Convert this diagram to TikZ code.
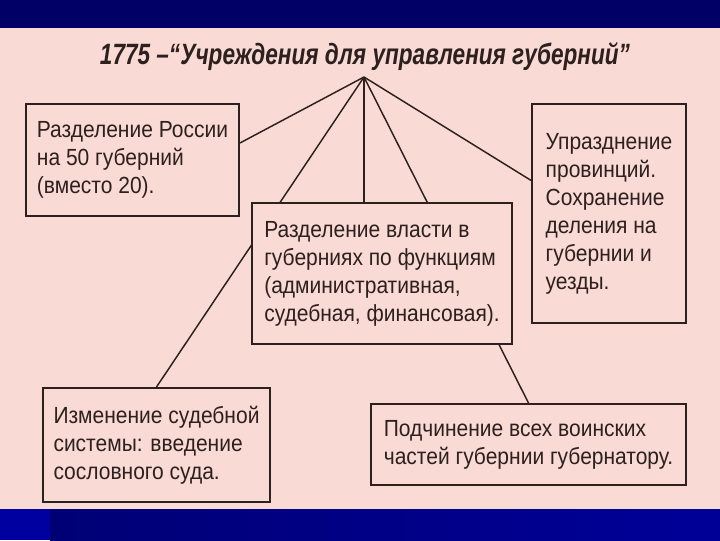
\documentclass[tikz,border=0pt]{standalone}
\usepackage{fontspec}
\newfontfamily\boxfont[FakeStretch=0.9]{Liberation Sans}
\newfontfamily\headfont[FakeStretch=0.77]{Liberation Sans}
\definecolor{pinkbg}{RGB}{249,218,213}
\definecolor{barnavy}{RGB}{0,0,102}
\definecolor{barblue}{RGB}{0,0,160}
\definecolor{inkc}{RGB}{45,32,30}

\pgfdeclarelayer{bg}
\pgfdeclarelayer{wires}
\pgfsetlayers{bg,wires,main}

\begin{document}
\begin{tikzpicture}[x=0.75pt, y=-0.75pt,
    blk/.style={draw=inkc, line width=1.5pt, fill=pinkbg, anchor=north west,
        inner sep=2pt, align=left, text=inkc,
        font=\boxfont\fontsize{17.5}{21}\selectfont},
    wire/.style={draw=inkc, line width=1.1pt}]
    % Parameters
    \def\px{0.75pt}

    % Frame
    \useasboundingbox (0,0) rectangle (720,540);
    \begin{pgfonlayer}{bg}
        \fill[pinkbg] (0,0) rectangle (720,540);
        \fill[barnavy] (0,0) rectangle (720,28);
        \shade[left color=barnavy!90!blue, right color=barblue!95!black] (50,509) rectangle (720,540);
        \fill[barblue] (0,509) rectangle (50,540);
    \end{pgfonlayer}

    % Title and apex
    \node[anchor=base, text=inkc, font=\headfont\bfseries\itshape\fontsize{22}{24}\selectfont]
        (title) at (365,64) {1775 –“Учреждения для управления губерний”};
    \coordinate (apex) at (364,77);

    % Boxes
    \node[blk, minimum width={213*\px}, minimum height={112*\px}] (razdel) at (25,103)
        {Разделение России\\на 50 губерний\\(вместо 20).};
    \node[blk, minimum width={260*\px}, minimum height={141*\px}] (vlast) at (251,202)
        {Разделение власти в\\губерниях по функциям\\(административная,\\судебная, финансовая).};
    \node[blk, minimum width={154*\px}, minimum height={219*\px}] (uprazd) at (531,103)
        {Упразднение\\провинций.\\Сохранение\\деления на\\губернии и\\уезды.};
    \node[blk, minimum width={227*\px}, minimum height={114*\px}] (sud) at (42,387)
        {Изменение судебной\\системы: введение\\сословного суда.};
    \node[blk, minimum width={315*\px}, minimum height={81*\px}] (voin) at (370,403)
        {Подчинение всех воинских\\частей губернии губернатору.};

    % Lines from the apex (behind the boxes)
    \begin{pgfonlayer}{wires}
        \draw[wire] (apex) -- (razdel.9);
        \draw[wire] (apex) -- (uprazd.157);
        \draw[wire] (apex) -- (apex |- vlast.north);
        \draw[wire] (apex) -- (sud.north);
        \draw[wire] (apex) -- (voin.north);
    \end{pgfonlayer}
\end{tikzpicture}
\end{document}
